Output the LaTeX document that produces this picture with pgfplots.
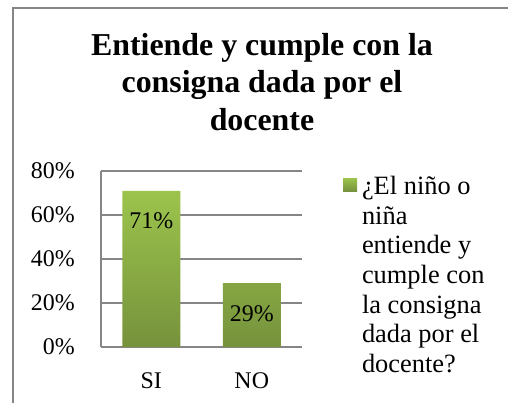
\documentclass[border=0pt]{standalone}
\usepackage{fontspec}
\setmainfont{Liberation Serif}
\usepackage{pgfplots}
\pgfplotsset{compat=1.18}
\definecolor{gridgray}{HTML}{868686}
\definecolor{gtop}{HTML}{9CC44C}
\definecolor{gbot}{HTML}{76923C}
\begin{document}
\begin{tikzpicture}[x=1bp,y=1bp]
\useasboundingbox (0,0) rectangle (508,403);
\draw[gridgray, line width=1.5bp] (13,0) -- (13,395) -- (508,395);
\node[font=\fontsize{32}{37.5}\selectfont\bfseries, align=center, anchor=north, inner sep=0pt] at (262,370) {Entiende y cumple con la\\consigna dada por el\\docente};
\begin{axis}[
  at={(151.25bp,56bp)}, anchor=origin,
  scale only axis, width=201bp, height=176bp,
  xmin=-0.5, xmax=1.5, ymin=0, ymax=80,
  axis x line*=bottom, axis y line*=left,
  axis line style={gridgray, line width=1.2bp, -},
  ymajorgrids, grid style={gridgray, line width=1.2bp},
  major tick length=0pt,
  ytick={0,20,40,60,80},
  yticklabels={0\%,20\%,40\%,60\%,80\%},
  xtick={0,1}, xticklabels={SI,NO},
  tick label style={font=\fontsize{24}{29}\selectfont},
  yticklabel style={anchor=east, inner sep=0pt, xshift=-26bp},
  xticklabel style={anchor=north, inner sep=0pt, yshift=-25bp},
  ybar, bar width=58bp,
  nodes near coords,
  point meta=explicit symbolic,
  every node near coord/.append style={font=\fontsize{24}{29}\selectfont, anchor=center, yshift=-30bp},
  legend style={at={(1.204,0.983)}, anchor=north west, draw=none, fill=none, inner sep=0pt, outer sep=0pt, column sep=5bp, nodes={inner sep=0pt}},
  legend cell align=left,
]
\addplot[draw=none, top color=gtop, bottom color=gbot,
  legend image code/.code={\path[top color=gtop, bottom color=gbot] (0bp,-6bp) rectangle (14bp,7bp);}]
  coordinates {(0,71) [71\%] (1,29) [29\%]};
\addlegendentry{\fontsize{26.5}{29.7}\selectfont\begin{tabular}[t]{@{}l@{}}¿El niño o\\niña\\entiende y\\cumple con\\la consigna\\dada por el\\docente?\end{tabular}}
\end{axis}
\end{tikzpicture}
\end{document}
